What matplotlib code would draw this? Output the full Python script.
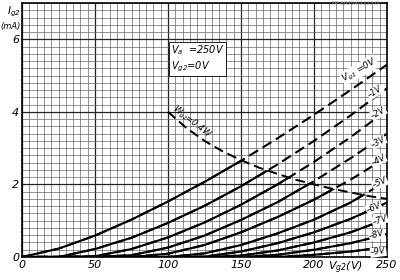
import numpy as np
import matplotlib
matplotlib.use('Agg')
import matplotlib.pyplot as plt
from matplotlib.patches import Polygon

# screen-grid voltage (V) and screen-grid current (mA)
vg2 = [0, 25, 50, 75, 100, 125, 150, 175, 200, 225, 250]
ig2 = {
	'0V': [0, 0.23, 0.59, 1.03, 1.53, 2.07, 2.65, 3.27, 3.92, 4.6, 5.3],
	'-1V': [0, 0, 0.22, 0.53, 0.94, 1.41, 1.95, 2.55, 3.2, 3.9, 4.65],
	'-2V': [0, 0, 0.02, 0.22, 0.54, 0.95, 1.44, 2.0, 2.62, 3.3, 4.05],
	'-3V': [0, 0, 0, 0.05, 0.26, 0.59, 1.02, 1.51, 2.09, 2.72, 3.4],
	'-4V': [0, 0, 0, 0, 0.09, 0.33, 0.68, 1.1, 1.58, 2.13, 2.75],
	'-5V': [0, 0, 0, 0, 0, 0.1, 0.33, 0.65, 1.03, 1.5, 2.1],
	'-6V': [0, 0, 0, 0, 0, 0.01, 0.15, 0.38, 0.68, 1.05, 1.5],
	'-7V': [0, 0, 0, 0, 0, 0, 0.04, 0.18, 0.4, 0.68, 1.05],
	'-8V': [0, 0, 0, 0, 0, 0, 0, 0.06, 0.2, 0.38, 0.63],
	'-9V': [0, 0, 0, 0, 0, 0, 0, 0, 0.06, 0.15, 0.28],
}
# Wg2 = 0.4 W limit
wg2_v = [100, 112.5, 125, 137.5, 150, 162.5, 175, 187.5, 200, 212.5, 225, 237.5, 250]
wg2_i = [4.0, 3.56, 3.2, 2.91, 2.67, 2.46, 2.29, 2.13, 2.0, 1.88, 1.78, 1.68, 1.6]

# label positions (V, mA, rotation)
lab_pos = {
	'-1V': (242, 4.55, 32), '-2V': (244, 3.97, 30), '-3V': (244, 3.17, 28),
	'-4V': (244, 2.67, 26), '-5V': (245, 2.04, 24), '-6V': (241, 1.35, 22),
	'-7V': (245, 1.02, 18), '-8V': (243, 0.61, 15), '-9V': (244, 0.14, 8),
}

plt.rcParams.update({'font.size': 8, 'font.style': 'italic'})
fig = plt.figure(figsize=(4, 2.8), dpi=100)
ax = fig.add_axes([22/400, 23/280, 365/400, 254/280])
ax.set_xlim(0, 250)
ax.set_ylim(0, 7)

# graph paper
ax.set_xticks(np.arange(0, 251, 5), minor=True)
ax.set_yticks(np.arange(0, 7.01, 0.2), minor=True)
ax.set_xticks([0, 50, 100, 150, 200, 250])
ax.set_yticks([0, 2, 4, 6])
ax.grid(which='minor', color='#666666', lw=0.5)
ax.grid(which='major', color='#222222', lw=0.9)
ax.set_axisbelow(True)
ax.tick_params(which='both', length=0, pad=2, labelsize=8)
ax.set_xticklabels(['0', '50', '100', '150', '200', '250'], style='italic')
ax.set_yticklabels(['0', '2', '4', '6'], style='italic')
for s in ax.spines.values():
	s.set_linewidth(1.2)

# region below the Wg2 limit -> solid, above it -> dashed
below = Polygon(list(zip([0, 100] + wg2_v + [250, 0], [7, 7] + wg2_i + [0, 0])),
	closed=True, transform=ax.transData, fill=False, lw=0)
ax.add_patch(below)
for k, vals in ig2.items():
	ax.plot(vg2, vals, color='k', lw=1.5, ls=(0, (5, 2.5)))
	ln, = ax.plot(vg2, vals, color='k', lw=1.5)
	ln.set_clip_path(below)

ax.plot(wg2_v, wg2_i, color='k', lw=1.4, ls=(0, (5, 2.5)))

for k, (x, y, r) in lab_pos.items():
	ax.text(x, y, k.replace('-', '\u2013'), fontsize=6, rotation=r, ha='center', va='center',
		bbox=dict(fc='white', ec='none', pad=0.3))
ax.text(231, 5.15, r'$V_{g1}$ =0V', fontsize=6.5, rotation=30, ha='center', va='center',
	bbox=dict(fc='white', ec='none', pad=0.3))
ax.text(116, 3.72, r'$W_{g2}$=0.4W', fontsize=6, rotation=-38, ha='center', va='center')
ax.text(102, 5.9, '$V_a$  =250V\n$V_{g2}$=0V', fontsize=7, ha='left', va='top',
	linespacing=1.3, bbox=dict(fc='white', ec='k', lw=0.6, pad=1.5))

fig.text(345/400, 1 - 268/280, r'$V_{g2}$(V)', fontsize=8, ha='center', va='center',
	bbox=dict(fc='white', ec='none', pad=0.5))
fig.text(14/400, 1 - 12/280, r'$I_{g2}$', fontsize=7.5, ha='center', va='center')
fig.text(11/400, 1 - 26/280, '(mA)', fontsize=6, ha='center', va='center')
fig.text(355/400, 1 - 3/280, '7R 8035X-1113,0', fontsize=4, color='#999999', ha='center', va='center')

fig.savefig('out.png', dpi=100)
